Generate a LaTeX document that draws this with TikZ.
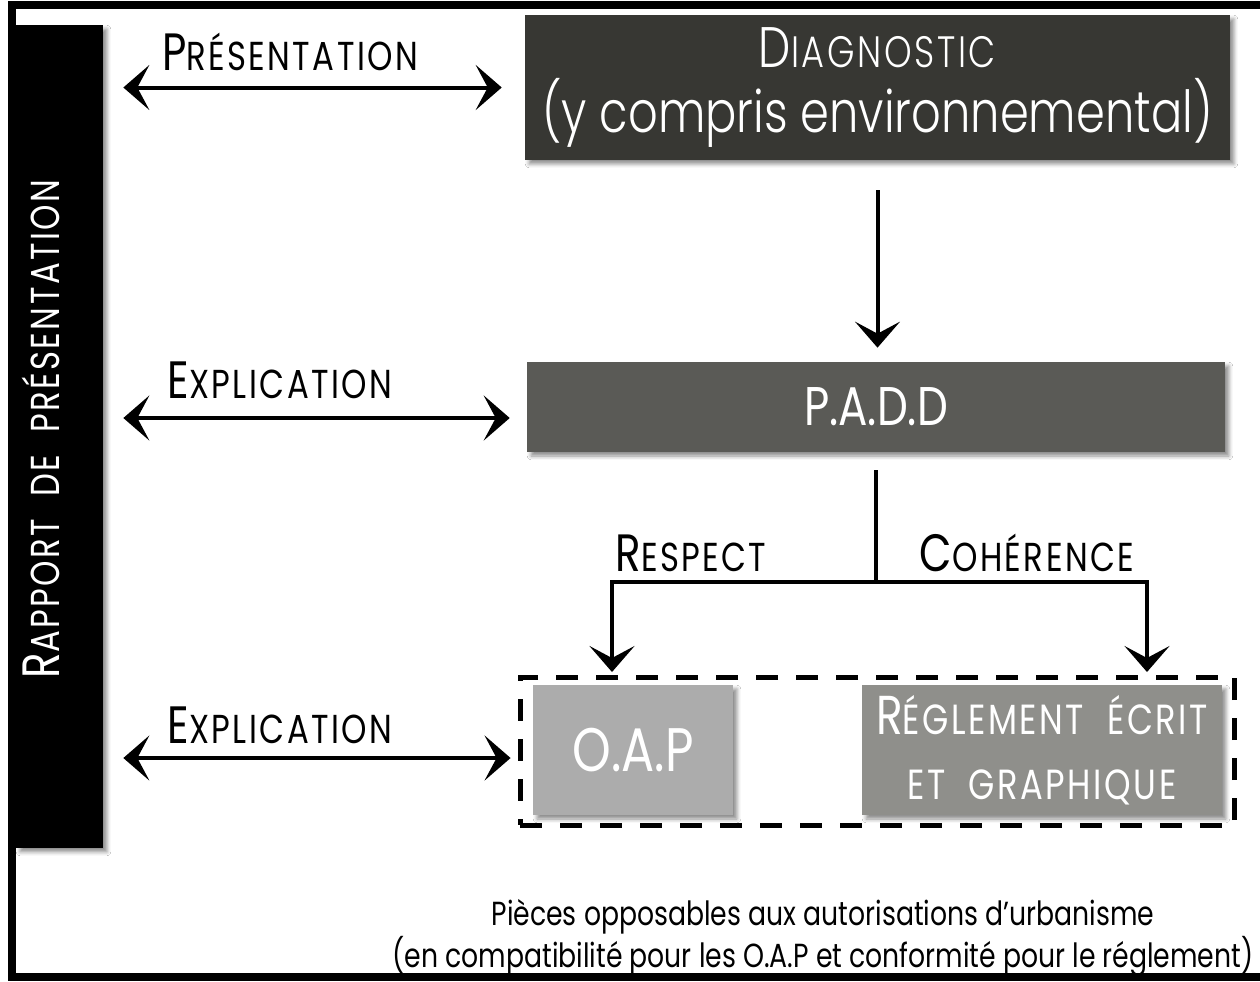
\documentclass[tikz,border=0pt]{standalone}
\usepackage{fontspec}
\usepackage{graphicx}
\setmainfont{Poppins}
\newfontfamily\capsfont{Poppins}[FakeStretch=0.8,LetterSpace=6]
\newfontfamily\corpsfont{Poppins}[FakeStretch=0.8]
\newfontfamily\clairfont{Poppins Light}[FakeStretch=0.8]
\newfontfamily\clairscfont{Poppins Light}[FakeStretch=0.8,LetterSpace=6]
\usetikzlibrary{arrows.meta,shadows.blur}
\definecolor{grisdiag}{HTML}{373733}
\definecolor{grispadd}{HTML}{5A5A56}
\definecolor{grisoap}{HTML}{ACACAC}
\definecolor{grisregl}{HTML}{8F8F8B}
\newcommand\grandc[1]{\scalebox{1.3}{#1}}
\tikzset{
  pointe/.tip={Stealth[length=0.52cm,width=0.9cm,inset=0.24cm]},
  fleche/.style={line width=0.08cm,-pointe},
  dfleche/.style={line width=0.08cm,pointe-pointe},
  boite/.style={inner sep=0pt,text=white,blur shadow={shadow xshift=0.08cm,shadow yshift=-0.08cm,shadow opacity=45}},
  etiq/.style={font=\capsfont\fontsize{23}{27}\selectfont,text=black},
}
\begin{document}
\begin{tikzpicture}[x=0.02cm,y=-0.02cm]
\useasboundingbox (0,0) rectangle (1260,981);
% Cadre
\fill[white] (0,0) rectangle (1260,981);
\draw[line width=0.16cm] (12,5) rectangle (1300,977);
\node[boite,fill=black,rotate=90,minimum width=16.46cm,minimum height=1.74cm,
  font=\capsfont\fontsize{23}{27}\selectfont] (rapport) at (59.5,436.5)
  {\raisebox{0pt}[0pt][0pt]{\hspace*{0.3cm}\grandc{R}APPORT\ \ DE\ \ PRÉSENTATION}};
% Boites
\node[boite,fill=grisdiag,minimum width=14.1cm,minimum height=2.9cm,align=center] (diag) at (877.5,87.5)
  {{\clairscfont\fontsize{25}{34}\selectfont\grandc{D}IAGNOSTIC}\\[5pt]
   {\clairfont\fontsize{33}{36}\selectfont (y compris environnemental)}};
\node[boite,fill=grispadd,minimum width=13.96cm,minimum height=1.8cm,
  font=\corpsfont\fontsize{31}{34}\selectfont] (padd) at (876,407) {P.A.D.D};
\node[draw,line width=0.1cm,dash pattern=on 0.44cm off 0.36cm,minimum width=14.3cm,minimum height=2.96cm]
  (pieces) at (877.5,751) {};
\node[boite,fill=grisoap,minimum width=4cm,minimum height=2.6cm,
  font=\corpsfont\fontsize{35}{38}\selectfont] (oap) at (633,750) {O.A.P};
\node[boite,fill=grisregl,minimum width=7.2cm,minimum height=2.6cm,align=center,
  font=\capsfont\fontsize{24}{37}\selectfont] (regl) at (1042,750)
  {\grandc{R}ÉGLEMENT\ \ ÉCRIT\\ET\ \ GRAPHIQUE};
% Fleches
\draw[dfleche,shorten <=0.4cm,shorten >=0.46cm] (rapport.south |- diag.west) -- (diag.west);
\coordinate (expl1) at ([yshift=-0.22cm]padd.west);
\draw[dfleche,shorten <=0.4cm,shorten >=0.34cm] (rapport.south |- expl1) -- (expl1);
\coordinate (expl2) at ([yshift=-0.14cm]pieces.west);
\draw[dfleche,shorten <=0.4cm,shorten >=0.14cm] (rapport.south |- expl2) -- (expl2);
\draw[fleche,shorten <=0.6cm,shorten >=0.28cm] (diag.south) -- (diag.south |- padd.north);
\coordinate (fourche) at (876,582);
\coordinate (pointeR) at (612,672);
\coordinate (pointeC) at (1147,672);
\draw[line width=0.08cm,shorten <=0.36cm] (padd.south) -- (fourche);
\draw[fleche] (fourche) -| (pointeR);
\draw[fleche] (fourche) -| (pointeC);
% Etiquettes
\node[etiq] (presentation) at (290,52) {\grandc{P}RÉSENTATION};
\node[etiq] (explicationA) at (280,380) {\grandc{E}XPLICATION};
\node[etiq] (explicationB) at (280,725) {\grandc{E}XPLICATION};
\node[etiq] (respect) at (691,553) {\grandc{R}ESPECT};
\node[etiq] (coherence) at (1027,553) {\grandc{C}OHÉRENCE};
\node[font=\corpsfont\fontsize{19}{19.3}\selectfont,align=center] (opposables) at (823,938)
  {Pièces opposables aux autorisations d’urbanisme\\
   (en compatibilité pour les O.A.P et conformité pour le réglement)};
\end{tikzpicture}
\end{document}
